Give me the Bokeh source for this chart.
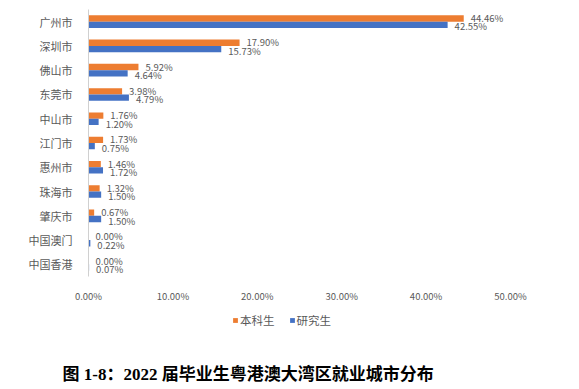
from bokeh.plotting import figure
from bokeh.layouts import column
from bokeh.models import ColumnDataSource, FactorRange, FixedTicker, PrintfTickFormatter, Label, Legend, LegendItem
from bokeh.transform import dodge
from bokeh.core.properties import value
from bokeh.embed import file_html
from bokeh.resources import INLINE

cities = ["广州市", "深圳市", "佛山市", "东莞市", "中山市", "江门市", "惠州市", "珠海市", "肇庆市", "中国澳门", "中国香港"]
undergrad = [44.46, 17.90, 5.92, 3.98, 1.76, 1.73, 1.46, 1.32, 0.67, 0.00, 0.00]
graduate = [42.55, 15.73, 4.64, 4.79, 1.20, 0.75, 1.72, 1.50, 1.50, 0.22, 0.07]
x_ticks = [0, 10, 20, 30, 40, 50]
series_names = ["本科生", "研究生"]
title_text = "图 1-8：2022 届毕业生粤港澳大湾区就业城市分布"

ORANGE = "#ED7D31"
BLUE = "#4472C4"
GRAY = "#595959"
FONT = "Noto Sans CJK SC"

src = ColumnDataSource(dict(
    city=cities,
    ug=undergrad,
    gr=graduate,
    ug_lbl=[f"{v:.2f}%" for v in undergrad],
    gr_lbl=[f"{v:.2f}%" for v in graduate],
))

p = figure(width=571, height=305, y_range=FactorRange(*cities[::-1]), x_range=(0, 50),
           output_backend="svg", toolbar_location=None,
           min_border_left=88, min_border_right=61, min_border_top=9, min_border_bottom=25)
p.outline_line_color = None
p.grid.visible = False
p.frame_align = False

p.hbar(y=dodge("city", 0.13, range=p.y_range), right="ug", left=0, height=0.26, source=src,
       color=ORANGE, line_color=None)
p.hbar(y=dodge("city", -0.13, range=p.y_range), right="gr", left=0, height=0.26, source=src,
       color=BLUE, line_color=None)

p.text(x="ug", y=dodge("city", 0.15, range=p.y_range), text="ug_lbl", source=src, x_offset=7,
       text_font=value(FONT), text_font_size="9.5px", text_color=GRAY,
       text_baseline="middle", text_align="left")
p.text(x="gr", y=dodge("city", -0.2, range=p.y_range), text="gr_lbl", source=src, x_offset=7,
       text_font=value(FONT), text_font_size="9.5px", text_color=GRAY,
       text_baseline="middle", text_align="left")

xa = p.xaxis[0]
xa.ticker = FixedTicker(ticks=x_ticks)
xa.formatter = PrintfTickFormatter(format="%.2f%%")
xa.axis_line_color = None
xa.major_tick_line_color = None
xa.minor_tick_line_color = None
xa.major_label_text_font = FONT
xa.major_label_text_font_size = "9.5px"
xa.major_label_text_color = GRAY
xa.major_label_standoff = 6

ya = p.yaxis[0]
ya.axis_line_color = "#d0d0d0"
ya.major_tick_line_color = None
ya.minor_tick_line_color = None
ya.major_label_text_font = FONT
ya.major_label_text_font_size = "11px"
ya.major_label_text_color = GRAY
ya.major_label_standoff = 10

# lower panel: legend + caption
p2 = figure(width=571, height=84, x_range=(0, 571), y_range=(0, 84),
            output_backend="svg", toolbar_location=None,
            min_border_left=0, min_border_right=0, min_border_top=0, min_border_bottom=0)
p2.axis.visible = False
p2.grid.visible = False
p2.outline_line_color = None
p2.frame_align = False
d1 = p2.quad(left=[0], right=[0], top=[0], bottom=[0], color=ORANGE, line_color=None)
d2 = p2.quad(left=[0], right=[0], top=[0], bottom=[0], color=BLUE, line_color=None)

legend = Legend(items=[LegendItem(label=series_names[0], renderers=[d1]),
                       LegendItem(label=series_names[1], renderers=[d2])],
                orientation="horizontal", location=(232, 61),
                padding=0, margin=0, spacing=14, label_standoff=2,
                glyph_width=6, glyph_height=6, label_height=12,
                label_text_font=FONT, label_text_font_size="11.5px", label_text_color=GRAY,
                border_line_color=None, background_fill_alpha=0)
p2.add_layout(legend, "center")

title = Label(x=62, y=15, x_units="screen", y_units="screen", text=title_text,
              text_font="'Liberation Serif', 'Noto Sans CJK SC'", text_font_style="bold",
              text_font_size="17px", text_color="#000000",
              text_align="left", text_baseline="middle")
p2.add_layout(title)

open("out.html", "w").write(file_html(column(p, p2, spacing=0), INLINE))
